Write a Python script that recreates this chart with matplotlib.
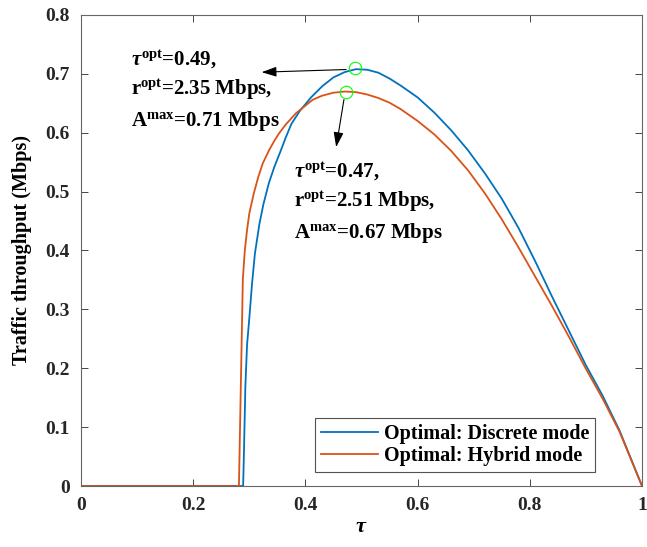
import numpy as np
import matplotlib.pyplot as plt

plt.rcParams['font.family'] = 'Liberation Serif'
plt.rcParams['font.weight'] = 'bold'
plt.rcParams['mathtext.fontset'] = 'custom'
plt.rcParams['mathtext.rm'] = 'Liberation Serif:bold'
plt.rcParams['mathtext.bf'] = 'Liberation Serif:bold'
plt.rcParams['mathtext.it'] = 'Liberation Serif:italic:bold'

# data
tau_discrete = [0, 0.289, 0.2905, 0.293, 0.296, 0.300, 0.305, 0.310, 0.318, 0.325,
                0.335, 0.345, 0.355, 0.365, 0.375, 0.39, 0.41, 0.43, 0.45, 0.47,
                0.49, 0.51, 0.53, 0.55, 0.57, 0.60, 0.63, 0.66, 0.69, 0.72,
                0.75, 0.78, 0.81, 0.84, 0.87, 0.90, 0.93, 0.96, 1.0]
thr_discrete = [0, 0, 0.06, 0.17, 0.24, 0.285, 0.345, 0.395, 0.445, 0.478,
                0.515, 0.543, 0.567, 0.592, 0.615, 0.637, 0.660, 0.679, 0.694, 0.703,
                0.708, 0.707, 0.702, 0.692, 0.680, 0.660, 0.634, 0.604, 0.570, 0.531,
                0.488, 0.438, 0.381, 0.321, 0.263, 0.205, 0.153, 0.094, 0]

tau_hybrid = [0, 0.2815, 0.2885, 0.292, 0.296, 0.300, 0.308, 0.316, 0.324, 0.335,
              0.345, 0.353, 0.365, 0.383, 0.40, 0.413, 0.43, 0.45, 0.47, 0.49,
              0.51, 0.53, 0.55, 0.57, 0.60, 0.63, 0.66, 0.69, 0.72, 0.75,
              0.78, 0.81, 0.84, 0.87, 0.90, 0.93, 0.96, 1.0]
thr_hybrid = [0, 0, 0.352, 0.40, 0.435, 0.463, 0.497, 0.525, 0.548, 0.570,
              0.587, 0.599, 0.614, 0.633, 0.646, 0.656, 0.663, 0.668, 0.670, 0.669,
              0.665, 0.659, 0.651, 0.640, 0.620, 0.597, 0.569, 0.536, 0.497, 0.453,
              0.405, 0.355, 0.305, 0.253, 0.199, 0.148, 0.092, 0]

opt_discrete = (0.4885, 0.7095)
opt_hybrid = (0.4725, 0.670)

lines_discrete = [r'$\tau^{\mathbf{opt}}$=0.49,',
                  r'$\mathbf{r}^{\mathbf{opt}}$=2.35 Mbps,',
                  r'$\mathbf{A}^{\mathbf{max}}$=0.71 Mbps']
lines_hybrid = [r'$\tau^{\mathbf{opt}}$=0.47,',
                r'$\mathbf{r}^{\mathbf{opt}}$=2.51 Mbps,',
                r'$\mathbf{A}^{\mathbf{max}}$=0.67 Mbps']

fig = plt.figure(figsize=(6.47, 5.47), dpi=100)
ax = fig.add_axes([0.1252, 0.1115, 0.8671, 0.8611])

ax.plot(tau_discrete, thr_discrete, color='#0072BD', lw=1.3, label='Optimal: Discrete mode')
ax.plot(tau_hybrid, thr_hybrid, color='#D95319', lw=1.3, label='Optimal: Hybrid mode')

# optimum markers
for p in (opt_discrete, opt_hybrid):
    ax.plot(p[0], p[1], 'o', mfc='none', mec='#00FF00', ms=9, mew=0.8)

ax.annotate('', xy=(0.317, 0.7027), xytext=(opt_discrete[0] - 0.011, opt_discrete[1] - 0.002),
            arrowprops=dict(arrowstyle='-|>,head_length=0.9,head_width=0.3', color='black', lw=0.8))
ax.annotate('', xy=(0.454, 0.571), xytext=(opt_hybrid[0] - 0.003, opt_hybrid[1] - 0.009),
            arrowprops=dict(arrowstyle='-|>,head_length=0.9,head_width=0.3', color='black', lw=0.8))

for s, yy in zip(lines_discrete, [0.715, 0.664, 0.6115]):
    ax.text(0.090, yy, s, fontsize=15, fontweight='bold', va='baseline', ha='left')
for s, yy in zip(lines_hybrid, [0.5243, 0.4734, 0.4207]):
    ax.text(0.380, yy, s, fontsize=15, fontweight='bold', va='baseline', ha='left')

ax.set_xlim(0, 1)
ax.set_ylim(0, 0.8)
ax.set_xticks([0, 0.2, 0.4, 0.6, 0.8, 1])
ax.set_xticklabels(['0', '0.2', '0.4', '0.6', '0.8', '1'])
ax.set_yticks(np.arange(0, 0.81, 0.1))
ax.set_yticklabels(['0', '0.1', '0.2', '0.3', '0.4', '0.5', '0.6', '0.7', '0.8'])
ax.tick_params(direction='in', top=True, right=True, length=5, width=0.6,
               colors='#262626', labelsize=14, pad=8)
for sp in ax.spines.values():
    sp.set_color('#666666')
    sp.set_linewidth(0.8)

ax.set_xlabel(r'$\tau$', fontsize=16, labelpad=3)
ax.set_ylabel('Traffic throughput (Mbps)', fontsize=14.5, fontweight='bold', labelpad=10)

leg = ax.legend(loc='lower right', bbox_to_anchor=(0.9165, 0.0297), fontsize=14.5,
                frameon=True, fancybox=False, handlelength=2.8, handletextpad=0.3,
                labelspacing=0.1, borderpad=0.3, borderaxespad=0)
leg.get_frame().set_edgecolor('#262626')
leg.get_frame().set_linewidth(0.8)

fig.savefig('out.png', dpi=100)
